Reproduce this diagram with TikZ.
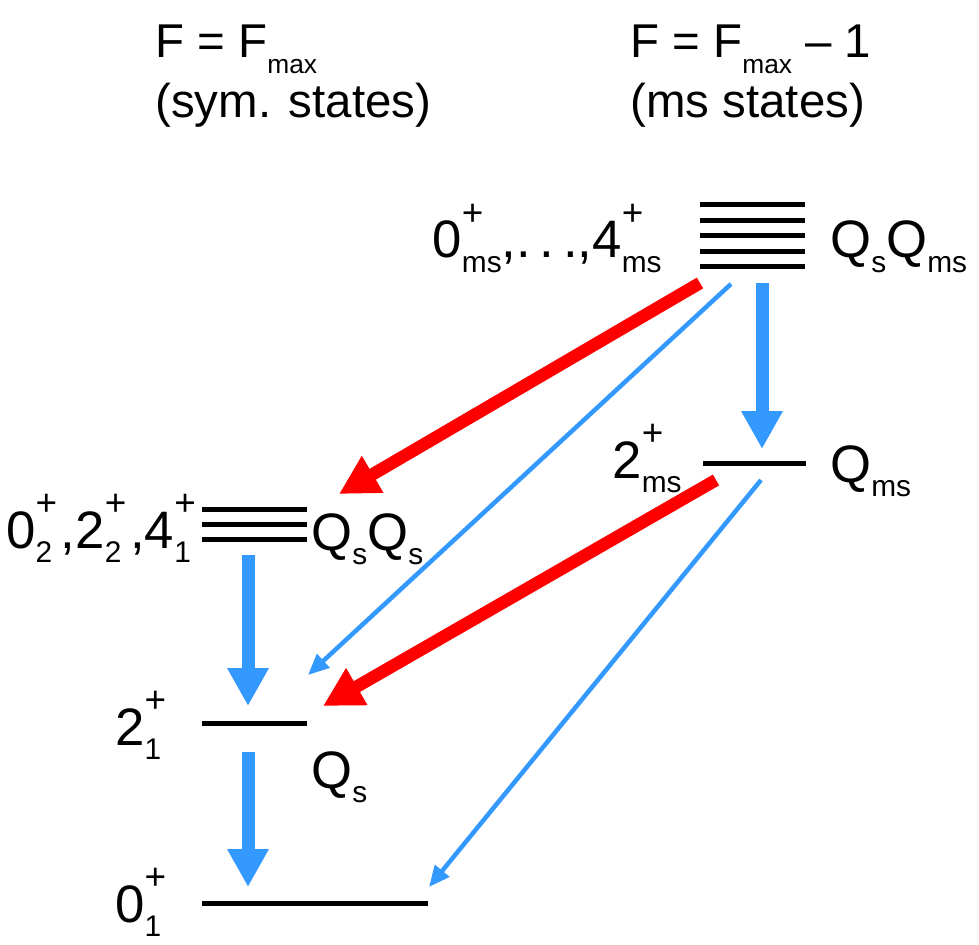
\documentclass[tikz,border=0pt]{standalone}
\usepackage{fontspec}
\setmainfont{Liberation Sans}
\usepackage{xcolor}
\usetikzlibrary{arrows.meta,positioning}

\definecolor{decblue}{RGB}{51,153,255}
\definecolor{decred}{RGB}{255,0,0}

\newcommand{\labfont}{\fontsize{30}{36}\selectfont}
\newcommand{\subfont}{\fontsize{17}{17}\selectfont}
\newcommand{\supfont}{\fontsize{21}{21}\selectfont}
\newcommand{\headfont}{\fontsize{27}{32}\selectfont}
\newcommand{\stt}[2]{#1\makebox[0pt][l]{\raisebox{0.62em}{\supfont +}}\raisebox{-0.27em}{\subfont #2}}
\newcommand{\Qq}[1]{Q\raisebox{-0.27em}{\subfont #1}}
\newcommand{\Fmax}{F\raisebox{-0.33em}{\fontsize{15}{15}\selectfont max}}

\begin{document}
\begin{tikzpicture}[x=0.02cm, y=-0.02cm,
	every node/.style={font=\labfont, inner sep=0pt},
	level/.style={line width=0.1cm},
	thickblue/.style={draw=decblue, line width=0.26cm, -{Triangle[length=0.76cm, width=0.78cm]}},
	thickred/.style={draw=decred, line width=0.25cm, -{Triangle[length=0.78cm, width=0.8cm]}},
	thinblue/.style={draw=decblue, line width=0.09cm, -{Triangle[length=0.42cm, width=0.36cm]}}
	]
	\useasboundingbox (0,0) rectangle (979,945);
	
	% headers
	\node[anchor=base west, font=\headfont] (symF) at (155,58) {F = \Fmax};
	\node[anchor=base west, font=\headfont] (symT) at (155,118) {(sym. states)};
	\node[anchor=base west, font=\headfont] (msF) at (630,58) {F = \Fmax{} – 1};
	\node[anchor=base west, font=\headfont] (msT) at (630,118) {(ms states)};
	
	% levels
	\foreach \y in {205,220.5,236,251.5,267}
		\draw[level] (700,\y) -- (805,\y);
	\draw[level] (703,463) -- (806,463);
	\foreach \y in {509,524,539}
		\draw[level] (202,\y) -- (307,\y);
	\draw[level] (202,723) -- (307,723);
	\draw[level] (202,903) -- (428,903);
	
	% level labels
	\node[anchor=base east] (msTwoPh) at (662,258) {\stt{0}{ms},.\,.\,.,\stt{4}{ms}};
	\node[anchor=base west] (qsqms) at (830,258) {\Qq{s}\Qq{ms}};
	\node[anchor=base east] (msOne) at (682,478) {\stt{2}{ms}};
	\node[anchor=base west] (qms) at (830,482) {\Qq{ms}};
	\node[anchor=base east] (symTwoPh) at (200,548) {\stt{0}{2}\,,\stt{2}{2}\,,\stt{4}{1}\,};
	\node[anchor=base west] (qsqs) at (311,550) {\Qq{s}\Qq{s}};
	\node[anchor=base west] (symOne) at (115,745) {\stt{2}{1}};
	\node[anchor=base west] (qs) at (311,788) {\Qq{s}};
	\node[anchor=base west] (gs) at (115,922) {\stt{0}{1}};
	
	% arrow ends
	\coordinate (tA) at (762,283);
	\coordinate (tB) at (762,449);
	\coordinate (tC) at (700,283);
	\coordinate (tD) at (339,494);
	\coordinate (tE) at (731,284);
	\coordinate (tF) at (308,675);
	\coordinate (mA) at (248,555);
	\coordinate (mB) at (248,706);
	\coordinate (oA) at (716,480);
	\coordinate (oB) at (323,706);
	\coordinate (oC) at (761,480);
	\coordinate (oD) at (429,887);
	\coordinate (sA) at (248,752);
	\coordinate (sB) at (248,887);
	
	\draw[thickblue] (tA) -- (tB);
	\draw[thickblue] (mA) -- (mB);
	\draw[thickblue] (sA) -- (sB);
	\draw[thickred] (tC) -- (tD);
	\draw[thickred] (oA) -- (oB);
	\draw[thinblue] (tE) -- (tF);
	\draw[thinblue] (oC) -- (oD);
	
\end{tikzpicture}
\end{document}
